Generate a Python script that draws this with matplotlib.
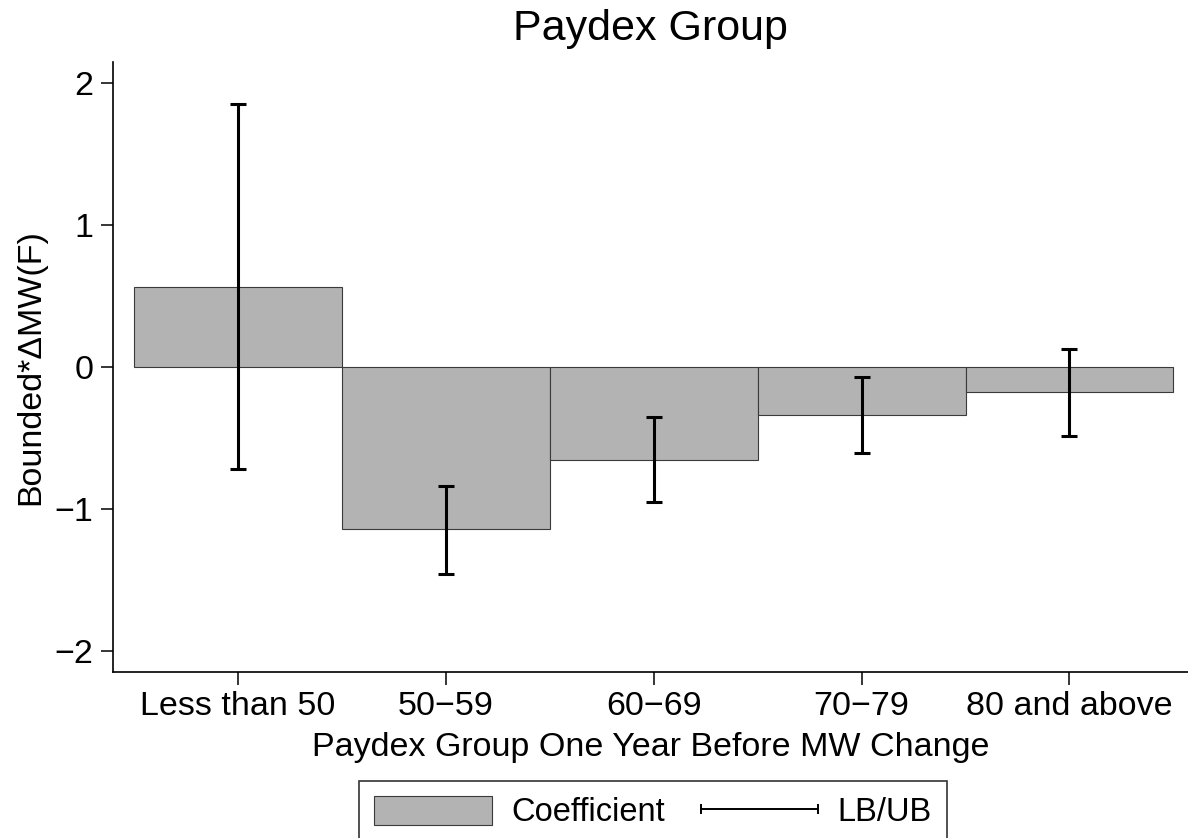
import matplotlib
matplotlib.use("Agg")
import matplotlib.pyplot as plt
import numpy as np
from matplotlib.lines import Line2D
from matplotlib.patches import Patch
from matplotlib.legend_handler import HandlerLine2D

plt.rcParams['font.family'] = ['Liberation Sans', 'DejaVu Sans']

groups = ["Less than 50", "50\u221259", "60\u221269", "70\u221279", "80 and above"]
coef = [0.563, -1.141, -0.655, -0.338, -0.176]
lower = [-0.718, -1.458, -0.951, -0.606, -0.486]
upper = [1.852, -0.838, -0.352, -0.070, 0.127]

x = np.arange(len(groups))
coef = np.array(coef)
lo = coef - np.array(lower)
hi = np.array(upper) - coef

fig = plt.figure(figsize=(11.88, 8.38), dpi=100)
ax = fig.add_axes([113 / 1188, 1 - 672 / 838, 1 - 113 / 1188, (672 - 62) / 838])

ax.bar(x, coef, width=1.0, color="#b3b3b3", edgecolor="#3a3a3a", linewidth=0.8, zorder=2)
ax.errorbar(x, coef, yerr=[lo, hi], fmt="none", ecolor="black", elinewidth=2.2,
            capsize=5.8, capthick=2.2, zorder=3)

ax.set_xlim(-0.6, 4.57)
ax.set_ylim(-2.148, 2.148)
ax.set_yticks([-2, -1, 0, 1, 2])
ax.set_xticks(x)
ax.set_xticklabels(groups)
for s in ["top", "right"]:
    ax.spines[s].set_visible(False)
for s in ["left", "bottom"]:
    ax.spines[s].set_linewidth(1.2)
ax.tick_params(axis="both", labelsize=24.5, length=9, width=1.1, direction="out")
ax.tick_params(axis="y", pad=5)
ax.tick_params(axis="x", pad=5)

ax.set_title("Paydex Group", fontsize=31, pad=16)
ax.set_xlabel("Paydex Group One Year Before MW Change", fontsize=24.5, labelpad=7)
ax.set_ylabel("Bounded*\u0394MW(F)", fontsize=24.5, labelpad=6)

# legend: grey box + horizontal bar with end caps
handles = [Patch(facecolor="#b3b3b3", edgecolor="#3a3a3a", linewidth=0.8),
           Line2D([0, 1], [0, 0], color="black", linewidth=1.4, marker="|",
                  markersize=7, markeredgewidth=1.4)]
leg = fig.legend(handles, ["Coefficient", "LB/UB"], loc="upper center",
                 bbox_to_anchor=(653 / 1188, 1 - 781 / 838), ncol=2, fontsize=23.5,
                 frameon=True, fancybox=False, edgecolor="black", handlelength=3.6,
                 handleheight=1.0, columnspacing=1.1, handletextpad=0.6,
                 borderpad=0.45, borderaxespad=0,
                 handler_map={Line2D: HandlerLine2D(marker_pad=0, numpoints=2)})
leg.get_frame().set_linewidth(1.2)

fig.savefig("out.png", dpi=100)
